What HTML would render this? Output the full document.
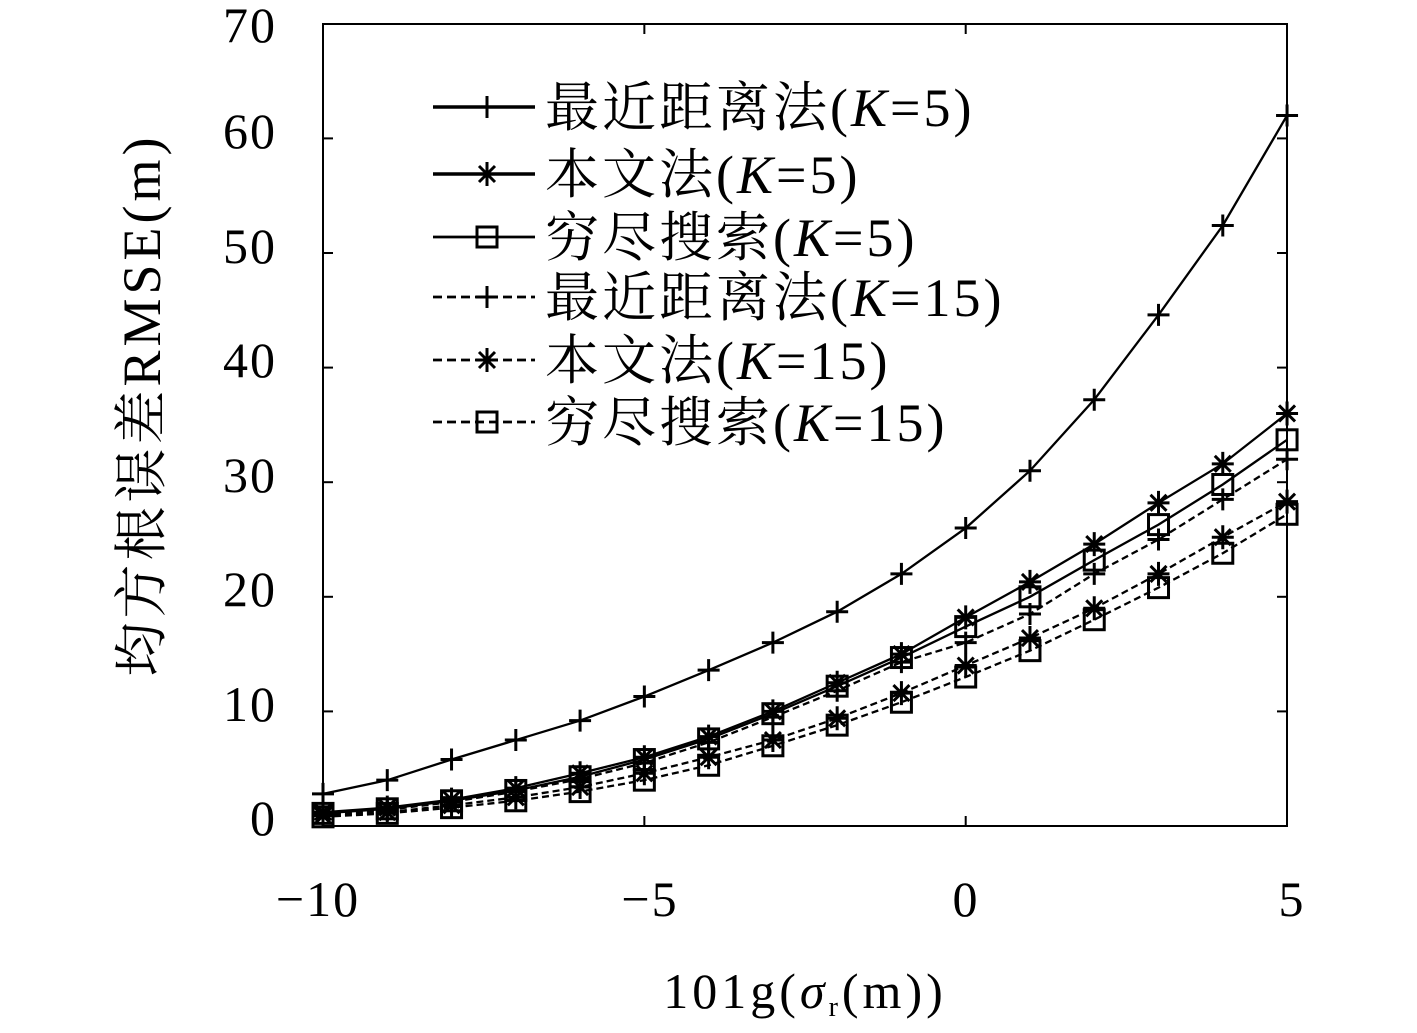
<!DOCTYPE html>
<html><head><meta charset="utf-8"><style>
html,body{margin:0;padding:0;background:#fff;}
svg text{font-family:"Liberation Serif","Noto Serif CJK SC",serif;fill:#000;}
</style></head><body>
<svg id="s" width="1417" height="1028" viewBox="0 0 1417 1028" xmlns="http://www.w3.org/2000/svg">
<rect x="323" y="24" width="964" height="802" fill="none" stroke="#000" stroke-width="2"/>
<g font-size="50" text-anchor="end" letter-spacing="2">
<text x="277" y="835">0</text><text x="277" y="721">10</text><text x="277" y="606">20</text>
<text x="277" y="492">30</text><text x="277" y="377">40</text><text x="277" y="263">50</text>
<text x="277" y="148">60</text><text x="277" y="42">70</text>
</g>
<g font-size="50" text-anchor="middle" letter-spacing="2">
<text x="318" y="916">−10</text><text x="650" y="916">−5</text><text x="966" y="916">0</text><text x="1292" y="916">5</text>
<text x="805" y="1008" letter-spacing="4">101g(<tspan font-style="italic">σ</tspan><tspan font-size="28" dy="8">r</tspan><tspan dy="-8">(m))</tspan></text>
</g>
<text transform="translate(160,405) rotate(-90)" font-size="54" text-anchor="middle" letter-spacing="4">均方根误差RMSE(m)</text>
<g id="g"></g>
<g font-size="54" letter-spacing="3">
<text x="545" y="126">最近距离法(<tspan font-style="italic">K</tspan>=5)</text>
<text x="545" y="193">本文法(<tspan font-style="italic">K</tspan>=5)</text>
<text x="545" y="256">穷尽搜索(<tspan font-style="italic">K</tspan>=5)</text>
<text x="545" y="316">最近距离法(<tspan font-style="italic">K</tspan>=15)</text>
<text x="545" y="379">本文法(<tspan font-style="italic">K</tspan>=15)</text>
<text x="545" y="441">穷尽搜索(<tspan font-style="italic">K</tspan>=15)</text>
</g>
</svg>
<script>
var g=document.getElementById('g'),h='';
function X(x){return 323+(x+10)*64.27}
function Y(v){return 826-v*11.46}
for(var i=1;i<7;i++){var y=Y(i*10);h+='<line x1="323" y1="'+y+'" x2="333" y2="'+y+'" stroke="#000" stroke-width="2"/><line x1="1277" y1="'+y+'" x2="1287" y2="'+y+'" stroke="#000" stroke-width="2"/>';}
[-5,0].forEach(function(x){var xx=X(x);h+='<line x1="'+xx+'" y1="826" x2="'+xx+'" y2="816" stroke="#000" stroke-width="2"/><line x1="'+xx+'" y1="24" x2="'+xx+'" y2="34" stroke="#000" stroke-width="2"/>';});
var D=[
[2.8,4,5.8,7.5,9.2,11.3,13.6,16,18.7,22,26,31,37.2,44.6,52.4,62],
[1.2,1.6,2.3,3.3,4.6,6,7.8,10,12.5,15,18.2,21.3,24.6,28.2,31.6,36],
[1.1,1.5,2.2,3.1,4.3,5.8,7.6,9.8,12.2,14.7,17.4,20,23.2,26.3,29.8,33.7],
[1.0,1.4,2.1,3.0,4.1,5.5,7.3,9.5,11.8,14.3,16,18.5,22,25,28.5,32],
[0.9,1.2,1.8,2.5,3.4,4.6,6,7.5,9.4,11.6,14,16.4,19,22,25.2,28.3],
[0.8,1.1,1.6,2.2,3.0,4.0,5.3,7,8.8,10.8,13,15.3,18,20.8,23.8,27.2]];
function mk(t,x,y){
 if(t==0)return '<path d="M'+(x-11)+' '+y+'h22M'+x+' '+(y-11)+'v22" stroke="#000" stroke-width="3" fill="none"/>';
 if(t==1)return '<path d="M'+(x-11)+' '+y+'h22M'+x+' '+(y-12)+'v24M'+(x-8)+' '+(y-8)+'l16 16M'+(x-8)+' '+(y+8)+'l16 -16" stroke="#000" stroke-width="3" fill="none"/>';
 return '<rect x="'+(x-10)+'" y="'+(y-10)+'" width="20" height="20" stroke="#000" stroke-width="3" fill="none"/>';
}
D.forEach(function(d,k){
 var p=d.map(function(v,i){return X(i-10)+','+Y(v)}).join(' ');
 var dash=k>=3?' stroke-dasharray="7,4"':'';
 h+='<polyline points="'+p+'" fill="none" stroke="#000" stroke-width="2.3"'+dash+'/>';
 d.forEach(function(v,i){h+=mk(k%3,X(i-10),Y(v));});
});
var ly=[107,174,237,297,360,422];
ly.forEach(function(y,k){
 var dash=k>=3?' stroke-dasharray="9,5"':'';
 h+='<line x1="433" y1="'+y+'" x2="535" y2="'+y+'" stroke="#000" stroke-width="'+(k<2?3.5:2.8)+'"'+dash+'/>'+mk(k%3,487,y);
});
g.innerHTML=h;
</script>
</body></html>
